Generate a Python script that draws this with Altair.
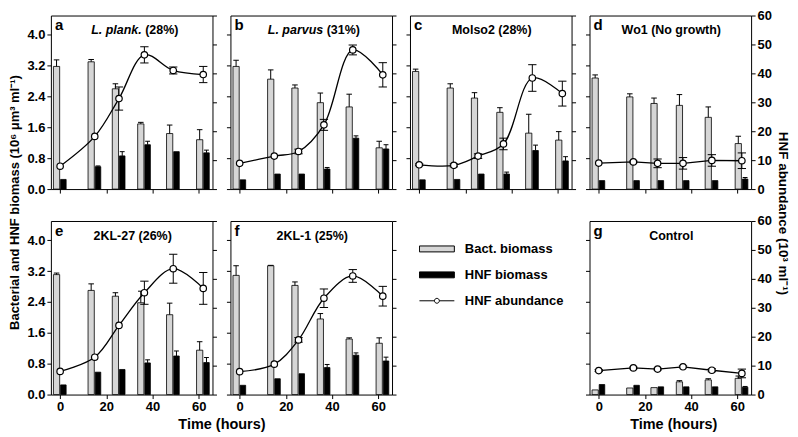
import altair as alt
import pandas as pd

FONT = "Liberation Sans"

# ---------------- data ----------------
TIMES = [0, 15, 25.5, 36.5, 49, 62]

BACT = {
    "a": [3.18, 3.30, 2.60, 1.69, 1.44, 1.28],
    "b": [3.18, 2.85, 2.62, 2.24, 2.13, 1.07],
    "c": [3.05, 2.62, 2.36, 1.99, 1.45, 1.27],
    "d": [2.88, 2.39, 2.22, 2.17, 1.86, 1.18],
    "e": [3.11, 2.70, 2.55, 2.38, 2.07, 1.15],
    "f": [3.09, 3.34, 2.83, 1.96, 1.44, 1.33],
    "g": [0.12, 0.17, 0.18, 0.33, 0.38, 0.42],
}
BACT_ERR = {
    "a": [0.17, 0.06, 0.13, 0.04, 0.22, 0.26],
    "b": [0.16, 0.24, 0.08, 0.25, 0.33, 0.17],
    "c": [0.06, 0.11, 0.14, 0.12, 0.49, 0.22],
    "d": [0.08, 0.08, 0.14, 0.28, 0.27, 0.19],
    "e": [0.04, 0.17, 0.09, 0.30, 0.30, 0.22],
    "f": [0.25, 0.01, 0.09, 0.14, 0.03, 0.14],
    "g": [0.0, 0.0, 0.0, 0.03, 0.03, 0.06],
}
HNFB = {
    "a": [0.25, 0.58, 0.86, 1.15, 0.97, 0.94],
    "b": [0.24, 0.39, 0.39, 0.52, 1.32, 1.04],
    "c": [0.24, 0.25, 0.39, 0.39, 1.00, 0.73],
    "d": [0.22, 0.22, 0.22, 0.22, 0.22, 0.26],
    "e": [0.25, 0.58, 0.65, 0.82, 1.00, 0.83],
    "f": [0.24, 0.41, 0.54, 0.70, 1.02, 0.87],
    "g": [0.26, 0.24, 0.20, 0.20, 0.20, 0.19],
}
HNFB_ERR = {
    "a": [0.0, 0.02, 0.11, 0.09, 0.0, 0.07],
    "b": [0.0, 0.0, 0.0, 0.04, 0.06, 0.11],
    "c": [0.0, 0.0, 0.0, 0.05, 0.14, 0.11],
    "d": [0.0, 0.0, 0.0, 0.0, 0.0, 0.04],
    "e": [0.0, 0.0, 0.0, 0.08, 0.13, 0.13],
    "f": [0.0, 0.0, 0.0, 0.08, 0.06, 0.10],
    "g": [0.0, 0.0, 0.0, 0.0, 0.0, 0.02],
}
ABUND = {
    "a": [7.9, 18.2, 31.3, 46.4, 41.0, 39.6],
    "b": [8.9, 11.4, 13.0, 22.2, 48.1, 39.5],
    "c": [8.4, 8.2, 11.4, 15.6, 38.4, 33.0],
    "d": [9.0, 9.4, 8.9, 8.9, 9.9, 9.8],
    "e": [8.0, 12.9, 23.9, 35.2, 43.5, 36.7],
    "f": [7.9, 10.5, 18.9, 33.3, 41.0, 34.0],
    "g": [8.3, 9.2, 8.8, 9.6, 8.4, 7.3],
}
ABUND_ERR = {
    "a": [0.0, 0.0, 4.0, 2.8, 1.2, 2.8],
    "b": [0.0, 0.0, 0.8, 1.9, 1.7, 4.2],
    "c": [0.3, 0.5, 0.8, 2.0, 4.6, 4.3],
    "d": [0.0, 0.3, 1.5, 2.0, 2.0, 2.7],
    "e": [0.0, 0.0, 0.0, 4.0, 5.0, 5.5],
    "f": [0.0, 0.0, 0.8, 3.2, 2.2, 3.4],
    "g": [0.3, 0.3, 0.3, 0.3, 0.5, 1.5],
}

NAME_ITALIC = {"a": "L. plank.", "b": "L. parvus"}
NAME_PLAIN = {"a": "(28%)", "b": "(31%)", "c": "Molso2 (28%)", "d": "Wo1 (No growth)",
              "e": "2KL-27 (26%)", "f": "2KL-1 (25%)", "g": "Control"}
SERIES = ["Bact. biomass", "HNF biomass", "HNF abundance"]
Y_LEFT_TICKS = [0.0, 0.8, 1.6, 2.4, 3.2, 4.0]
Y_RIGHT_TICKS = [0, 10, 20, 30, 40, 50, 60]
X_TICKS = [0, 20, 40, 60]
Y_LEFT_TITLE = "Bacterial and HNF biomass (10⁶ μm³ ml⁻¹)"
Y_RIGHT_TITLE = "HNF abundance (10³ ml⁻¹)"
X_TITLE = "Time (hours)"

# ---------------- styling ----------------
W, H = 162, 174
GRAY = "#d6d6d6"
XS = alt.Scale(domain=[-4, 66], nice=False, zero=False)
YL = alt.Scale(domain=[0, 4.5], nice=False)
YR = alt.Scale(domain=[0, 60], nice=False)
SPLIT = {"a": 10, "b": 12}


def panel(k):
    bottom = k in "efg"
    df = pd.DataFrame({
        "t": TIMES, "bact": BACT[k], "bact_err": BACT_ERR[k],
        "hnfb": HNFB[k], "hnfb_err": HNFB_ERR[k],
        "ab": ABUND[k], "ab_err": ABUND_ERR[k],
    })
    base = alt.Chart(df).transform_calculate(
        g0="datum.t - 2.9", g1="datum.t - 0.2", gc="datum.t - 1.55",
        gcl="datum.t - 2.75", gcr="datum.t - 0.35",
        b0="datum.t + 0.2", b1="datum.t + 2.6", bc="datum.t + 1.4",
        bcl="datum.t + 0.35", bcr="datum.t + 2.45",
        acl="datum.t - 1.8", acr="datum.t + 1.8",
        bact_hi="datum.bact + datum.bact_err",
        hnfb_hi="datum.hnfb + datum.hnfb_err",
        ab_lo="datum.ab - datum.ab_err", ab_hi="datum.ab + datum.ab_err",
    )

    # x axis
    if k == "e":
        xaxis = alt.Axis(values=X_TICKS, format="d", labels=True, title=X_TITLE,
                         titleX=W + 9, titleFontSize=14.5, titlePadding=4)
    elif k == "g":
        xaxis = alt.Axis(values=X_TICKS, format="d", labels=True, title=X_TITLE,
                         titleX=W / 2 + 3, titleFontSize=14.5, titlePadding=4)
    else:
        xaxis = alt.Axis(values=X_TICKS, format="d", labels=bottom, title=None)

    # left axis
    if k == "e":
        ylaxis = alt.Axis(values=Y_LEFT_TICKS, format=".1f", labels=True, orient="left",
                          title=Y_LEFT_TITLE, titleX=-29, titleY=-19, titleAngle=-90,
                          titleBaseline="bottom", titleAlign="center", titleFontSize=13)
    else:
        ylaxis = alt.Axis(values=Y_LEFT_TICKS, format=".1f", labels=(k == "a"),
                          orient="left", title=None)

    # right axis
    if k == "g":
        yraxis = alt.Axis(values=Y_RIGHT_TICKS, format="d", labels=True, orient="right",
                          title=Y_RIGHT_TITLE, titleX=24, titleY=-8, titleAngle=90,
                          titleBaseline="bottom", titleAlign="center", titleFontSize=13.5)
    else:
        yraxis = alt.Axis(values=Y_RIGHT_TICKS, format="d", labels=(k == "d"),
                          orient="right", title=None)

    def X(f):
        return alt.X(f, scale=XS, axis=xaxis)

    def YLf(f):
        return alt.Y(f, scale=YL, axis=ylaxis)

    def YRf(f):
        return alt.Y(f, scale=YR, axis=yraxis)

    gray_bar = base.mark_bar(fill=GRAY, stroke="black", strokeWidth=0.8).encode(
        x=X("g0:Q"), x2="g1:Q", y=YLf("bact:Q"), y2=alt.datum(0))
    gray_err = base.transform_filter("datum.bact_err > 0").mark_rule(
        color="black", strokeWidth=1).encode(
        x=X("gc:Q"), y=YLf("bact:Q"), y2="bact_hi:Q")
    gray_cap = base.transform_filter("datum.bact_err > 0").mark_rule(
        color="black", strokeWidth=1).encode(
        x=X("gcl:Q"), x2="gcr:Q", y=YLf("bact_hi:Q"))
    black_bar = base.mark_bar(fill="black", stroke="black", strokeWidth=0.8).encode(
        x=X("b0:Q"), x2="b1:Q", y=YLf("hnfb:Q"), y2=alt.datum(0))
    black_err = base.transform_filter("datum.hnfb_err > 0").mark_rule(
        color="black", strokeWidth=1).encode(
        x=X("bc:Q"), y=YLf("hnfb:Q"), y2="hnfb_hi:Q")
    black_cap = base.transform_filter("datum.hnfb_err > 0").mark_rule(
        color="black", strokeWidth=1).encode(
        x=X("bcl:Q"), x2="bcr:Q", y=YLf("hnfb_hi:Q"))

    texts = []
    lab_df = pd.DataFrame({"letter": [k], "it": [NAME_ITALIC.get(k, "")],
                           "pl": [NAME_PLAIN[k]]})
    texts.append(alt.Chart(lab_df).mark_text(
        align="left", baseline="top", font=FONT, fontSize=15, fontWeight="bold",
        color="black").encode(x=alt.value(4), y=alt.value(3), text="letter:N"))
    if k in NAME_ITALIC:
        texts.append(alt.Chart(lab_df).mark_text(
            align="right", baseline="middle", font=FONT, fontSize=12.5,
            fontWeight="bold", fontStyle="italic", color="black").encode(
            x=alt.value(W / 2 + SPLIT[k]), y=alt.value(15), text="it:N"))
        texts.append(alt.Chart(lab_df).mark_text(
            align="left", baseline="middle", font=FONT, fontSize=12.5,
            fontWeight="bold", color="black").encode(
            x=alt.value(W / 2 + SPLIT[k] + 3.5), y=alt.value(15), text="pl:N"))
    else:
        texts.append(alt.Chart(lab_df).mark_text(
            align="center", baseline="middle", font=FONT, fontSize=12.5,
            fontWeight="bold", color="black").encode(
            x=alt.value(W / 2 + 1), y=alt.value(15), text="pl:N"))

    left = alt.layer(gray_bar, gray_err, gray_cap, black_bar, black_err, black_cap, *texts)

    interp = "linear" if k in "dg" else "catmull-rom"
    ab_err = base.transform_filter("datum.ab_err > 0").mark_rule(
        color="black", strokeWidth=1).encode(
        x=X("t:Q"), y=YRf("ab_lo:Q"), y2="ab_hi:Q")
    ab_cap_lo = base.transform_filter("datum.ab_err > 0").mark_rule(
        color="black", strokeWidth=1).encode(
        x=X("acl:Q"), x2="acr:Q", y=YRf("ab_lo:Q"))
    ab_cap_hi = base.transform_filter("datum.ab_err > 0").mark_rule(
        color="black", strokeWidth=1).encode(
        x=X("acl:Q"), x2="acr:Q", y=YRf("ab_hi:Q"))
    line = base.mark_line(color="black", strokeWidth=1.3, interpolate=interp).encode(
        x=X("t:Q"), y=YRf("ab:Q"))
    pts = base.mark_point(filled=True, fill="white", stroke="black", strokeWidth=1.2,
                          size=42, opacity=1).encode(x=X("t:Q"), y=YRf("ab:Q"))
    right = alt.layer(ab_err, ab_cap_lo, ab_cap_hi, line, pts)

    return alt.layer(left, right).resolve_scale(y="independent").properties(
        width=W, height=H)


# ---------------- legend panel ----------------
RECT = "M-1,-0.17H1V0.17H-1Z"
LINEPT = ("M-1,0H-0.14M0.14,0H1M-0.14,0A0.14,0.14,0,1,1,0.14,0"
          "A0.14,0.14,0,1,1,-0.14,0Z")
LEG = alt.Legend(title=None, orient="none", legendX=9, legendY=22, symbolSize=1225,
                 labelFont=FONT, labelFontSize=13, labelFontWeight="bold",
                 labelColor="black", labelOffset=10, rowPadding=13, clipHeight=12,
                 padding=0, symbolStrokeWidth=1)
leg_df = pd.DataFrame({"series": SERIES})
legend_panel = alt.Chart(leg_df).transform_filter("false").mark_point(
    filled=True, strokeWidth=1, opacity=1).encode(
    shape=alt.Shape("series:N", scale=alt.Scale(domain=SERIES, range=[RECT, RECT, LINEPT]),
                    legend=LEG),
    fill=alt.Fill("series:N", scale=alt.Scale(domain=SERIES, range=[GRAY, "black", "white"]),
                  legend=LEG),
    stroke=alt.Stroke("series:N", scale=alt.Scale(domain=SERIES, range=["black", "black", "black"]),
                      legend=LEG),
).properties(width=W, height=H, view=alt.ViewBackground(stroke="transparent"))

cells = [panel("a"), panel("b"), panel("c"), panel("d"),
         panel("e"), panel("f"), legend_panel, panel("g")]

chart = alt.concat(*cells, columns=4, spacing={"row": 32, "column": 18},
                   bounds="flush").resolve_scale(
    x="independent", y="independent", shape="independent", fill="independent",
    stroke="independent",
).resolve_legend(shape="independent", fill="independent", stroke="independent").properties(
    padding={"left": 0, "top": 0, "right": 0, "bottom": 0}
).configure_view(stroke="black", strokeWidth=1).configure_axis(
    labelFont=FONT, labelFontSize=13, labelFontWeight="bold", labelColor="black",
    titleFont=FONT, titleFontWeight="bold", titleColor="black",
    tickColor="black", tickSize=4, tickWidth=1, domain=False, grid=False,
    labelPadding=2, labelFlush=False,
)

chart.save("out.html", embed_options={"renderer": "svg", "actions": False})
